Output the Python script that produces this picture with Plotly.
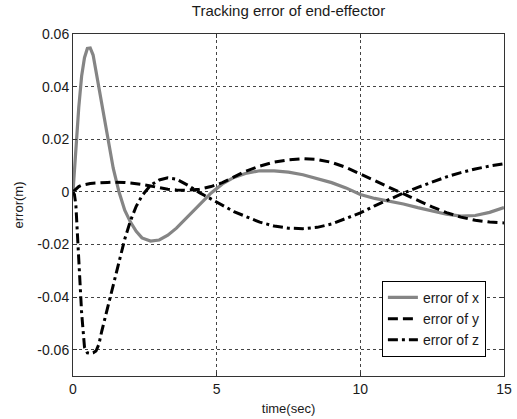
import plotly.graph_objects as go

time = [0, 0.05, 0.1, 0.2, 0.3, 0.4, 0.5, 0.6, 0.7, 0.8, 0.9, 1.0, 1.2, 1.4, 1.6, 1.8,
        2.0, 2.2, 2.4, 2.7, 3.0, 3.3, 3.6, 4.0, 4.4, 4.8, 5.2, 5.6, 6.0, 6.5, 7.0, 7.5,
        8.0, 8.5, 9.0, 9.5, 10.0, 10.5, 11.0, 11.5, 12.0, 12.5, 13.0, 13.5, 14.0, 14.5, 15.0]

err_x = [0, 0.008, 0.018, 0.032, 0.044, 0.051, 0.0545, 0.0547, 0.052, 0.046, 0.039, 0.033,
         0.021, 0.009, 0.0, -0.007, -0.0115, -0.015, -0.0175, -0.0187, -0.0183, -0.0165,
         -0.0138, -0.0095, -0.005, -0.0005, 0.003, 0.0055, 0.007, 0.008, 0.008, 0.0075,
         0.0065, 0.005, 0.0035, 0.0015, -0.001, -0.0025, -0.0035, -0.0046, -0.006, -0.0073,
         -0.0085, -0.0092, -0.009, -0.0078, -0.006]

err_y = [0, 0.0005, 0.0012, 0.002, 0.0025, 0.0028, 0.003, 0.0032, 0.0033, 0.0034, 0.0035,
         0.0035, 0.0036, 0.0037, 0.0037, 0.0036, 0.0034, 0.0032, 0.0028, 0.0022, 0.0015,
         0.001, 0.0007, 0.0006, 0.001, 0.002, 0.0035, 0.0058, 0.0078, 0.0098, 0.0113, 0.0122,
         0.0126, 0.0123, 0.0112, 0.0093, 0.0069, 0.0043, 0.0017, -0.0008, -0.0033, -0.0057,
         -0.0079, -0.0096, -0.0108, -0.0115, -0.0118]

err_z = [0, -0.001, -0.005, -0.025, -0.046, -0.059, -0.0612, -0.0614, -0.0612, -0.0605,
         -0.058, -0.053, -0.044, -0.035, -0.026, -0.018, -0.011, -0.0055, -0.0015, 0.0025,
         0.0045, 0.0053, 0.0048, 0.0025, -0.0003, -0.0028, -0.0052, -0.0075, -0.0093, -0.0115,
         -0.013, -0.0138, -0.014, -0.0135, -0.0122, -0.0102, -0.008, -0.0053, -0.0028, -0.0005,
         0.0017, 0.0038, 0.0057, 0.0073, 0.0087, 0.0098, 0.0107]

series_names = ["error of x", "error of y", "error of z"]
y_ticks = [-0.06, -0.04, -0.02, 0, 0.02, 0.04, 0.06]
y_ticklabels = ["-0.06", "-0.04", "-0.02", "0", "0.02", "0.04", "0.06"]
x_ticks = [0, 5, 10, 15]
x_ticklabels = ["0", "5", "10", "15"]

fig = go.Figure()
fig.add_trace(go.Scatter(x=time, y=err_x, mode="lines", name=series_names[0],
                         line=dict(color="#858585", width=3.2)))
fig.add_trace(go.Scatter(x=time, y=err_y, mode="lines", name=series_names[1],
                         line=dict(color="black", width=3, dash="10px,5px")))
fig.add_trace(go.Scatter(x=time, y=err_z, mode="lines", name=series_names[2],
                         line=dict(color="black", width=3, dash="10px,4px,3px,4px")))

font = "Liberation Sans, Arial, sans-serif"
fig.update_layout(
    width=517, height=419,
    margin=dict(l=73, r=13, t=34, b=43, autoexpand=False),
    paper_bgcolor="white", plot_bgcolor="white",
    font=dict(family=font, size=13, color="#1a1a1a"),
    title=dict(text="Tracking error of end-effector", x=0.5, xanchor="center",
               xref="paper", yref="container",
               y=1 - 5 / 419, yanchor="top", font=dict(size=15, color="#1a1a1a")),
    showlegend=True,
    legend=dict(x=0.958, xanchor="right", y=0.056, yanchor="bottom",
                bordercolor="black", borderwidth=1, bgcolor="white",
                font=dict(size=14, color="#1a1a1a"), tracegroupgap=0),
)
fig.update_xaxes(range=[0, 15], tickvals=x_ticks, ticktext=x_ticklabels,
                 automargin=False, tickfont=dict(size=14),
                 showline=True, mirror="ticks", linecolor="#333", linewidth=1,
                 ticks="inside", ticklen=4, tickcolor="#333",
                 showgrid=True, gridcolor="#444", griddash="dot", gridwidth=1,
                 zeroline=False, title=dict(text="time(sec)", standoff=8, font=dict(size=13)))
fig.update_yaxes(range=[-0.07, 0.06], tickvals=y_ticks, ticktext=y_ticklabels,
                 automargin=False, tickfont=dict(size=14),
                 showline=True, mirror="ticks", linecolor="#333", linewidth=1,
                 ticks="inside", ticklen=4, tickcolor="#333",
                 showgrid=True, gridcolor="#444", griddash="dot", gridwidth=1,
                 zeroline=False, title=dict(text="error(m)", standoff=10, font=dict(size=13)))

fig.write_html("out.html", config={"displayModeBar": False},
               post_script="document.body.style.margin='0';document.body.style.overflow='hidden';")
